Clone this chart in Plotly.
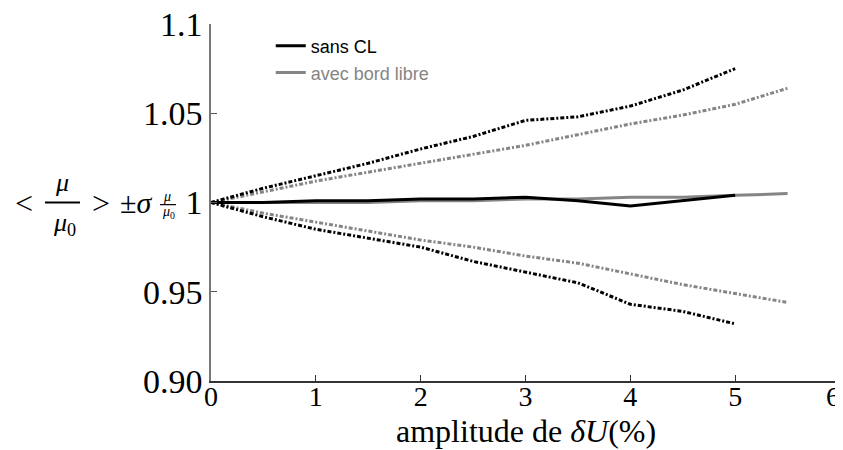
import plotly.graph_objects as go

# amplitude de dU (%)
x_sans = [0, 0.5, 1, 1.5, 2, 2.5, 3, 3.5, 4, 4.5, 5]
x_bord = [0, 0.5, 1, 1.5, 2, 2.5, 3, 3.5, 4, 4.5, 5, 5.5]

# sans CL : moyenne, +sigma, -sigma
mean_sans = [1.0, 1.0, 1.001, 1.001, 1.002, 1.002, 1.003, 1.001, 0.998, 1.001, 1.004]
up_sans = [1.0, 1.008, 1.015, 1.022, 1.030, 1.037, 1.046, 1.048, 1.054, 1.063, 1.075]
lo_sans = [1.0, 0.992, 0.985, 0.980, 0.975, 0.967, 0.961, 0.955, 0.943, 0.939, 0.932]

# avec bord libre
mean_bord = [1.0, 1.0, 1.0, 1.0, 1.001, 1.001, 1.002, 1.002, 1.003, 1.003, 1.004, 1.005]
up_bord = [1.0, 1.006, 1.012, 1.017, 1.022, 1.027, 1.032, 1.038, 1.044, 1.049, 1.055, 1.064]
lo_bord = [1.0, 0.994, 0.989, 0.984, 0.979, 0.975, 0.970, 0.966, 0.960, 0.954, 0.949, 0.944]

y_ticks = [0.9, 0.95, 1.0, 1.05, 1.1]
y_ticktext = ['0.90', '0.95', '1', '1.05', '1.1']
x_ticks = [0, 1, 2, 3, 4, 5, 6]
# last label nudged left so it stays inside the window
x_ticktext = ['0', '1', '2', '3', '4', '5', '6&nbsp;&nbsp;']

BLACK = '#000000'
GREY = '#858585'
dots = '4px,2px,2px,2px'
serif = 'Liberation Serif'

fig = go.Figure()
fig.add_trace(go.Scatter(x=x_bord, y=up_bord, mode='lines', showlegend=False,
                         line=dict(color=GREY, width=3, dash=dots)))
fig.add_trace(go.Scatter(x=x_bord, y=lo_bord, mode='lines', showlegend=False,
                         line=dict(color=GREY, width=3, dash=dots)))
fig.add_trace(go.Scatter(x=x_sans, y=up_sans, mode='lines', showlegend=False,
                         line=dict(color=BLACK, width=3, dash=dots)))
fig.add_trace(go.Scatter(x=x_sans, y=lo_sans, mode='lines', showlegend=False,
                         line=dict(color=BLACK, width=3, dash=dots)))
fig.add_trace(go.Scatter(x=x_bord, y=mean_bord, mode='lines', name='avec bord libre',
                         legend='legend2', line=dict(color=GREY, width=3)))
fig.add_trace(go.Scatter(x=x_sans, y=mean_sans, mode='lines', name='sans CL',
                         legend='legend', line=dict(color=BLACK, width=3)))

fig.update_xaxes(range=[0, 6], tickvals=x_ticks, ticktext=x_ticktext,
                 ticks='inside', ticklen=6,
                 tickcolor='#333', showline=True, linecolor='#333', linewidth=1.5,
                 showgrid=False, zeroline=False, automargin=False,
                 ticklabeloverflow='allow', ticklabelstandoff=-10,
                 tickfont=dict(family=serif, size=28, color='black'))
fig.update_yaxes(range=[0.9, 1.1], tickvals=y_ticks, ticktext=y_ticktext,
                 ticks='inside', ticklen=6, tickcolor='#555', showline=True,
                 linecolor='#777', linewidth=1.5, showgrid=False, zeroline=False,
                 automargin=False, ticklabeloverflow='allow',
                 tickfont=dict(family=serif, size=34, color='black'))

# x title
fig.add_annotation(x=0.5, y=-0.085, xref='paper', yref='paper', yanchor='top',
                   text='amplitude de <i>δU</i>(%)', showarrow=False,
                   font=dict(family=serif, size=32, color='black'))

# y label: < mu/mu0 > +- sigma_{mu/mu0}
def px(p):
    return (p - 211) / 629.0

anns = [
    dict(x=px(24), y=1.0, text='<', size=32),
    dict(x=px(62), y=1.011, text='<i>μ</i>', size=26),
    dict(x=px(64), y=0.988, text='<i>μ</i><sub>0</sub>', size=26),
    dict(x=px(101), y=1.0, text='>', size=32),
    dict(x=px(136), y=1.0, text='±<i>σ</i>', size=30),
    dict(x=px(167), y=1.0035, text='<i>μ</i>', size=14),
    dict(x=px(168), y=0.9945, text='<i>μ</i><sub>0</sub>', size=14),
]
for a in anns:
    fig.add_annotation(x=a['x'], y=a['y'], xref='paper', yref='y', text=a['text'],
                       showarrow=False, xanchor='center', yanchor='middle',
                       font=dict(family=serif, size=a['size'], color='black'))
fig.add_shape(type='line', xref='paper', yref='y', x0=px(45), x1=px(80), y0=1.0, y1=1.0,
              line=dict(color='black', width=2))
fig.add_shape(type='line', xref='paper', yref='y', x0=px(160), x1=px(176), y0=0.9988, y1=0.9988,
              line=dict(color='black', width=1.2))

# page body adds an 8px offset, so the figure is sized to fit the window
fig.update_layout(
    width=835, height=442,
    margin=dict(l=203, r=3, t=16, b=69),
    plot_bgcolor='white', paper_bgcolor='white',
    legend=dict(x=0.095, y=0.99, xanchor='left', yanchor='top', bgcolor='rgba(0,0,0,0)',
                font=dict(family='Liberation Sans', size=18, color='black')),
    legend2=dict(x=0.095, y=0.915, xanchor='left', yanchor='top', bgcolor='rgba(0,0,0,0)',
                 font=dict(family='Liberation Sans', size=18, color=GREY)),
)

fig.write_html("out.html")
